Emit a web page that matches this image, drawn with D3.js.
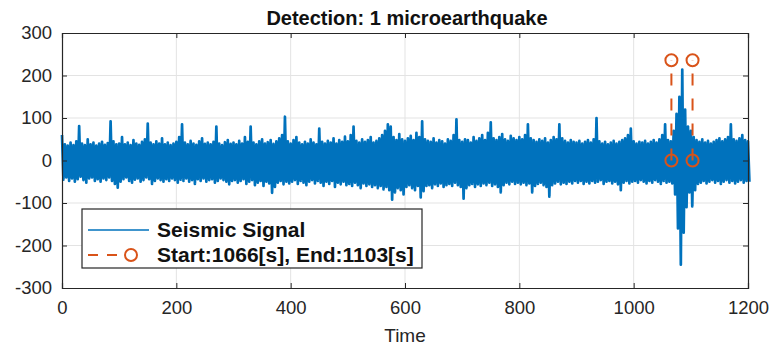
<!DOCTYPE html>
<html>
<head>
<meta charset="utf-8">
<script src="https://cdn.jsdelivr.net/npm/d3@7"></script>
<style>
  body { margin: 0; background: #fff; }
  svg { font-family: "Liberation Sans", Arial, sans-serif; }
</style>
</head>
<body>
<div id="app"></div>
<script>
// signal envelope, one value every 5 s
const upperEnv = [
  60,38,35,42,36,45,81,40,36,50,38,42,35,40,44,37,41,92,45,38,
  40,55,38,42,36,48,40,37,44,50,87,42,38,45,40,52,38,42,36,40,
  44,55,85,42,38,46,40,37,45,52,39,42,38,44,80,40,36,43,48,39,
  42,38,46,40,55,44,80,42,38,45,50,40,43,48,39,45,52,60,103,45,
  40,48,55,42,38,44,40,50,42,38,75,44,40,46,42,52,40,48,44,56,
  45,60,80,46,42,50,44,48,55,42,46,52,60,70,85,80,55,48,62,50,
  46,52,58,48,65,55,92,50,46,44,52,42,48,45,40,50,46,60,97,48,
  44,50,48,42,55,46,52,60,48,65,90,52,48,55,62,50,46,58,52,48,
  55,50,60,85,52,48,44,50,46,52,42,48,55,50,85,52,46,42,48,44,
  42,46,40,44,48,42,50,100,45,40,44,38,42,46,40,44,48,52,60,75,
  45,40,44,42,46,40,44,48,42,50,60,85,48,45,70,110,150,214,120,80,
  70,55,48,44,50,42,46,40,44,48,52,45,50,55,85,50,46,52,60,48,
  45
];
const lowerEnv = [
  -45,-40,-48,-42,-50,-44,-38,-46,-52,-42,-40,-48,-44,-50,-42,-46,-40,-48,-55,-64,
  -50,-44,-40,-48,-52,-45,-42,-50,-46,-40,-44,-55,-48,-42,-46,-50,-44,-48,-42,-46,
  -52,-45,-48,-42,-50,-46,-55,-44,-48,-42,-50,-46,-44,-52,-48,-42,-46,-50,-56,-48,
  -46,-52,-48,-44,-55,-50,-46,-58,-52,-48,-60,-50,-54,-76,-62,-52,-48,-56,-50,-54,
  -50,-46,-55,-48,-52,-58,-50,-46,-54,-48,-52,-60,-50,-55,-48,-62,-52,-56,-50,-58,
  -55,-60,-52,-58,-65,-54,-60,-56,-62,-58,-65,-60,-68,-62,-70,-92,-75,-65,-70,-80,
  -62,-58,-65,-70,-60,-87,-72,-60,-58,-65,-56,-60,-54,-62,-58,-55,-60,-52,-58,-62,
  -90,-65,-58,-55,-62,-56,-60,-54,-58,-52,-60,-56,-62,-75,-58,-52,-56,-50,-55,-52,
  -56,-52,-58,-54,-75,-60,-55,-52,-58,-62,-85,-58,-54,-50,-56,-52,-55,-50,-54,-48,
  -52,-48,-55,-50,-54,-48,-52,-50,-46,-55,-50,-48,-54,-50,-56,-70,-52,-48,-54,-50,
  -48,-52,-46,-50,-54,-48,-52,-46,-50,-55,-48,-52,-50,-54,-80,-160,-245,-170,-110,-75,
  -108,-70,-55,-52,-48,-54,-50,-46,-52,-48,-55,-50,-46,-52,-48,-54,-50,-46,-52,-48,
  -50
];
const sampleStep = 5;

const detectStart = 1066;
const detectEnd = 1103;
const markerLevels = [0, 236];

const xTicks = [0, 200, 400, 600, 800, 1000, 1200];
const yTicks = [-300, -200, -100, 0, 100, 200, 300];

const titleText = "Detection: 1 microearthquake";
const xLabelText = "Time";
const legendLabels = ["Seismic Signal", `Start:${detectStart}[s], End:${detectEnd}[s]`];

const W = 779, H = 353;
const blue = "#0072BD", orange = "#D95319";

const svg = d3.select("#app").append("svg").attr("width", W).attr("height", H);

const x = d3.scaleLinear().domain([0, 1200]).range([62, 748]);
const y = d3.scaleLinear().domain([-300, 300]).range([288, 33]);

// grid
svg.append("g").selectAll("line").data(xTicks.slice(1, -1)).enter().append("line")
    .attr("x1", d => x(d)).attr("x2", d => x(d))
    .attr("y1", y(300)).attr("y2", y(-300))
    .attr("stroke", "#e3e3e3").attr("stroke-width", 1);
svg.append("g").selectAll("line").data(yTicks.slice(1, -1)).enter().append("line")
    .attr("x1", x(0)).attr("x2", x(1200))
    .attr("y1", d => y(d)).attr("y2", d => y(d))
    .attr("stroke", "#e3e3e3").attr("stroke-width", 1);

// signal drawn as a zig-zag between the envelopes
let pts = [];
upperEnv.forEach((u, i) => {
    pts.push([i * sampleStep, u]);
    if (i < lowerEnv.length) pts.push([i * sampleStep + sampleStep / 2, lowerEnv[i]]);
});
const line = d3.line().x(d => x(d[0])).y(d => y(d[1]));
svg.append("path")
    .attr("d", line(pts))
    .attr("fill", "none")
    .attr("stroke", blue)
    .attr("stroke-width", 2.7)
    .attr("stroke-linejoin", "round");

// detection markers
[detectStart, detectEnd].forEach(t => {
    svg.append("line")
        .attr("x1", x(t)).attr("x2", x(t))
        .attr("y1", y(markerLevels[0])).attr("y2", y(markerLevels[1]))
        .attr("stroke", orange).attr("stroke-width", 2)
        .attr("stroke-dasharray", "12,13");
    markerLevels.forEach(v => {
        svg.append("circle")
            .attr("cx", x(t)).attr("cy", y(v)).attr("r", 6)
            .attr("fill", "none").attr("stroke", orange).attr("stroke-width", 2);
    });
});

// axes
const axisColor = "#262626";
const fmt = d => String(d);
const xAxis = svg.append("g").attr("transform", `translate(0,${y(-300)})`)
    .call(d3.axisBottom(x).tickValues(xTicks).tickSize(-5).tickPadding(13).tickFormat(fmt));
const xAxisTop = svg.append("g").attr("transform", `translate(0,${y(300)})`)
    .call(d3.axisTop(x).tickValues(xTicks).tickSize(-5).tickFormat(""));
const yAxis = svg.append("g").attr("transform", `translate(${x(0)},0)`)
    .call(d3.axisLeft(y).tickValues(yTicks).tickSize(-5).tickPadding(10).tickFormat(fmt));
const yAxisRight = svg.append("g").attr("transform", `translate(${x(1200)},0)`)
    .call(d3.axisRight(y).tickValues(yTicks).tickSize(-5).tickFormat(""));

[xAxis, xAxisTop, yAxis, yAxisRight].forEach(g => {
    g.select(".domain").attr("stroke", axisColor).attr("stroke-width", 1.2);
    g.selectAll(".tick line").attr("stroke", axisColor);
    g.selectAll("text").attr("fill", axisColor)
        .style("font-size", "18.5px").style("font-family", "Liberation Sans, Arial, sans-serif");
});

// title and label
svg.append("text").attr("x", 407).attr("y", 25).attr("text-anchor", "middle")
    .style("font-size", "20px").style("font-weight", "bold").attr("fill", "#111")
    .text(titleText);
svg.append("text").attr("x", x(600)).attr("y", 342).attr("text-anchor", "middle")
    .style("font-size", "19px").attr("fill", axisColor)
    .text(xLabelText);

// legend
const lg = svg.append("g");
lg.append("rect").attr("x", 82).attr("y", 209).attr("width", 340).attr("height", 59)
    .attr("fill", "#fff").attr("stroke", axisColor).attr("stroke-width", 1.2);
lg.append("line").attr("x1", 88).attr("x2", 149).attr("y1", 230).attr("y2", 230)
    .attr("stroke", blue).attr("stroke-width", 1.5);
lg.append("line").attr("x1", 88).attr("x2", 126).attr("y1", 255).attr("y2", 255)
    .attr("stroke", orange).attr("stroke-width", 2).attr("stroke-dasharray", "10,9");
lg.append("circle").attr("cx", 131).attr("cy", 255).attr("r", 6)
    .attr("fill", "none").attr("stroke", orange).attr("stroke-width", 2);
lg.selectAll("text.lab").data(legendLabels).enter().append("text")
    .attr("x", 157).attr("y", (d, i) => 237 + i * 25)
    .style("font-size", "21px").style("font-weight", "bold").attr("fill", "#111")
    .text(d => d);
</script>
</body>
</html>
